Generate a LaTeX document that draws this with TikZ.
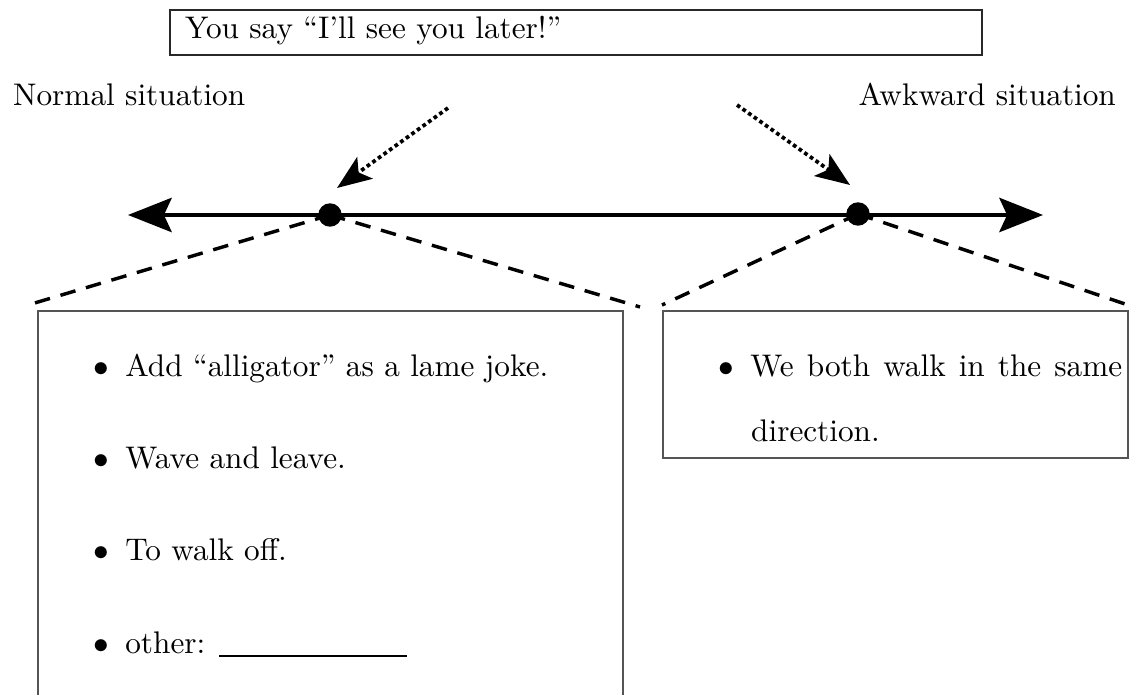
\documentclass[tikz,border=0pt]{standalone}
\usetikzlibrary{arrows.meta}

\tikzset{every picture/.style={line width=0.75pt}}
\tikzset{
  boxline/.style={color={rgb, 255:red, 85; green, 85; blue, 85}, line width=0.6pt},
  headline/.style={color={rgb, 255:red, 40; green, 40; blue, 40}, line width=0.7pt},
  dashline/.style={line width=1.1pt, dash pattern={on 5pt off 3.5pt}},
  pointer/.style={line width=1.2pt, densely dotted, -{Stealth[length=11pt,width=8.5pt,inset=2.5pt]}},
  bigdot/.style={circle, fill=black, inner sep=0pt, minimum size=7.5pt},
  txt/.style={inner sep=0pt},
}

\begin{document}
\begin{tikzpicture}[x=0.32pt,y=0.32pt,yscale=-1,xscale=1]
\useasboundingbox (0,0) rectangle (1134,695);

%Shape: Rectangle [id:saybox]
\draw [headline] (170,10) rectangle (982,55) ;
% Text Node
\node [txt, anchor=base west] (say) at (184,39) {You say “I’ll see you later!”};

% Text Node
\node [txt, anchor=base west] (normal) at (12,106) {Normal situation};
% Text Node
\node [txt, anchor=base east] (awkward) at (1117,106) {Awkward situation};

%Coordinates
\coordinate (lend) at (128,215);
\coordinate (rend) at (1043,215);
\coordinate (ptrL) at (448,108);
\coordinate (tipL) at (337,188);
\coordinate (ptrR) at (737,105);
\coordinate (tipR) at (850,185);
\coordinate (fanLa) at (28,305);
\coordinate (fanLb) at (640,307);
\coordinate (fanRa) at (662,305);
\coordinate (fanRb) at (1128,305);

%Shape: Ellipse [id:dotL]
\node [bigdot] (dotL) at (330,215) {};
%Shape: Ellipse [id:dotR]
\node [bigdot] (dotR) at (858,214) {};

%Straight Lines [id:fanL]
\draw [dashline] (dotL.center) -- (fanLa) ;
\draw [dashline] (dotL.center) -- (fanLb) ;
%Straight Lines [id:fanR]
\draw [dashline] (dotR.center) -- (fanRa) ;
\draw [dashline] (dotR.center) -- (fanRb) ;

%Straight Lines [id:axis]
\draw [line width=1.1pt, {Stealth[length=14pt,width=11pt,inset=2.5pt]}-{Stealth[length=14pt,width=11pt,inset=2.5pt]}] (lend) -- (rend) ;

%Straight Lines [id:pointers]
\draw [pointer] (ptrL) -- (tipL) ;
\draw [pointer] (ptrR) -- (tipR) ;

%Shape: Rectangle [id:normalbox]
\draw [boxline] (38,700) -- (38,311) -- (623,311) -- (623,700) ;
%Shape: Rectangle [id:awkwardbox]
\draw [boxline] (663,311) rectangle (1128,458) ;

% Text Node
\node [txt, anchor=base west] (joke) at (92,377) {$\bullet$\hspace{5.3pt}Add “alligator” as a lame joke.};
% Text Node
\node [txt, anchor=base west] (wave) at (92,469) {$\bullet$\hspace{5.3pt}Wave and leave.};
% Text Node
\node [txt, anchor=base west] (walkoff) at (92,561) {$\bullet$\hspace{5.3pt}To walk off.};
% Text Node
\node [txt, anchor=base west] (other) at (92,653) {$\bullet$\hspace{5.3pt}other: \rule[-1.3pt]{60pt}{0.6pt}};

% Text Node
\node [txt, anchor=base west] (same) at (717,377) {$\bullet$\hspace{5.3pt}\makebox[119pt][s]{We both walk in the same}};
% Text Node
\node [txt, anchor=base west] (direction) at (750,442) {direction.};

\end{tikzpicture}
\end{document}
